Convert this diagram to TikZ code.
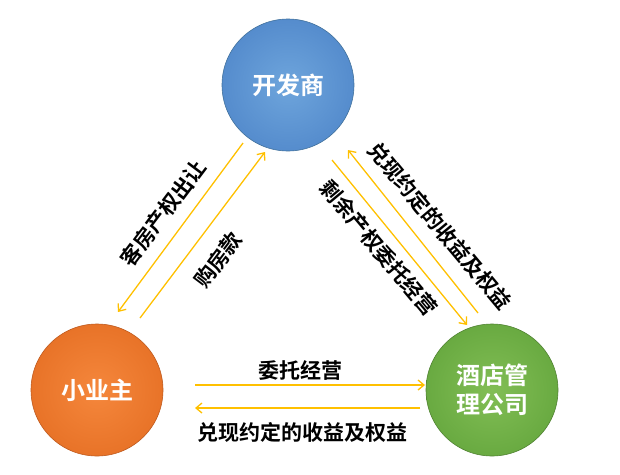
\documentclass[tikz,border=0pt]{standalone}
\usepackage{fontspec}
\setmainfont{Noto Sans CJK SC}[BoldFont={* Bold}]
\usetikzlibrary{arrows.meta,shadings}
\definecolor{gold}{HTML}{FFC000}
\definecolor{bline}{RGB}{65,113,156}
\definecolor{bin}{RGB}{110,165,220}
\definecolor{bout}{RGB}{85,140,205}
\definecolor{oline}{RGB}{190,90,30}
\definecolor{oin}{RGB}{245,135,60}
\definecolor{oout}{RGB}{232,115,40}
\definecolor{gline}{RGB}{80,130,50}
\definecolor{gin}{RGB}{130,190,85}
\definecolor{gout}{RGB}{105,170,65}
\begin{document}
\begin{tikzpicture}[x=1pt,y=-1pt,
  ball/.style={circle,minimum size=132pt,inner sep=0pt,draw=#1,line width=0.6pt,text=white,font=\bfseries\fontsize{24}{29}\selectfont,align=center},
  flow/.style={draw=gold,line width=1.3pt,-{Straight Barb[length=6pt,width=10pt]}},
  lab/.style={font=\bfseries\fontsize{21}{24}\selectfont,inner sep=0pt}]
\useasboundingbox (0,0) rectangle (620,474);
\node[ball=bline,inner color=bin,outer color=bout] (dev) at (288,85) {开发商};
\node[ball=oline,inner color=oin,outer color=oout] (own) at (97,390) {小业主};
\node[ball=gline,inner color=gin,outer color=gout] (hot) at (492,390) {酒店管\\理公司};
\coordinate (a1) at (243,143); \coordinate (a2) at (118,312);
\coordinate (b1) at (140,318); \coordinate (b2) at (265,152);
\coordinate (c1) at (332,160); \coordinate (c2) at (467,325);
\coordinate (d1) at (478,313); \coordinate (d2) at (348,150);
\coordinate (e1) at (195,385); \coordinate (e2) at (425,385);
\coordinate (f1) at (420,408); \coordinate (f2) at (195,408);
\draw[flow] (a1) -- (a2);
\draw[flow] (b1) -- (b2);
\draw[flow] (c1) -- (c2);
\draw[flow] (d1) -- (d2);
\draw[flow] (e1) -- (e2);
\draw[flow] (f1) -- (f2);
\node[lab,rotate=53] (la) at (163,213) {客房产权出让};
\node[lab,rotate=53] (lb) at (218,260) {购房款};
\node[lab,rotate=-50] (lc) at (379,248) {剩余产权委托经营};
\node[lab,rotate=-50] (ld) at (440,226) {兑现约定的收益及权益};
\node[lab] (le) at (300,370) {委托经营};
\node[lab] (lf) at (302,432) {兑现约定的收益及权益};
\end{tikzpicture}
\end{document}
